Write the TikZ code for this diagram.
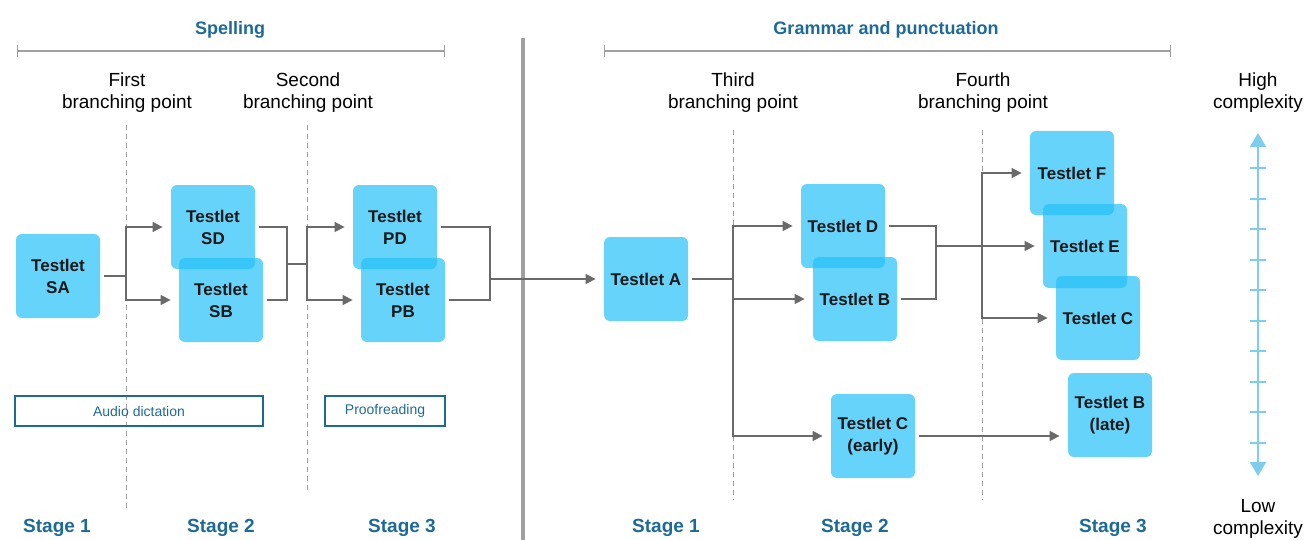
\documentclass[tikz,border=0pt]{standalone}
\usepackage{fontspec}
\setmainfont{Liberation Sans}
\usepackage{tikz}
\usetikzlibrary{shapes, arrows.meta, positioning}
\definecolor{headblue}{HTML}{1E6A96}
\definecolor{boxblue}{HTML}{24C0F8}
\definecolor{linegray}{HTML}{6A6A6A}
\definecolor{rulegray}{HTML}{A0A0A0}
\definecolor{axisblue}{HTML}{7CCDEE}
\tikzstyle{testlet} = [fill=boxblue, fill opacity=0.7, text opacity=1, rounded corners=3pt, minimum width=42pt, minimum height=42pt, align=center, font=\fontsize{8.5}{11}\selectfont\bfseries, text=black!90]
\tikzstyle{flow} = [draw=linegray, line width=0.75pt]
\tikzstyle{gap} = [shorten <=2pt]
\tikzstyle{branch} = [flow, -{Triangle[length=5pt,width=5pt]}, shorten >=4pt]
\tikzstyle{dashline} = [draw=rulegray, line width=0.5pt, dash pattern=on 2.5pt off 2pt]
\tikzstyle{stage} = [font=\fontsize{9.5}{11}\selectfont\bfseries, text=headblue]
\tikzstyle{heading} = [font=\fontsize{9}{11}\selectfont\bfseries, text=headblue]
\tikzstyle{bplabel} = [align=center, font=\fontsize{9.5}{11}\selectfont]
\tikzstyle{task} = [draw=headblue, line width=0.6pt, minimum height=15pt, font=\fontsize{7}{8}\selectfont, text=headblue]

\begin{document}
\begin{tikzpicture}[x=0.5pt, y=-0.5pt, >=latex]
    \useasboundingbox (0,0) rectangle (1312,540);
    % headings and bars
    \node [heading] (spell) at (230,30) {Spelling};
    \node [heading] (gram) at (886,30) {Grammar and punctuation};
    \draw [rulegray, line width=0.6pt, {Bar[width=6pt]}-{Bar[width=6pt]}] (17,51) -- (445,51);
    \draw [rulegray, line width=0.6pt, {Bar[width=6pt]}-{Bar[width=6pt]}] (604,51) -- (1171,51);
    \draw [rulegray, line width=1.6pt] (523,38) -- (523,540);
    % branching points
    \node [bplabel] (bpa) at (127,93) {First\\branching point};
    \node [bplabel] (bpb) at (308,93) {Second\\branching point};
    \node [bplabel] (bpc) at (733,93) {Third\\branching point};
    \node [bplabel] (bpd) at (983,93) {Fourth\\branching point};
    \coordinate (bp1) at (126,0);
    \coordinate (bp2) at (307,0);
    \coordinate (bp3) at (733,0);
    \coordinate (bp4) at (982,0);
    \draw [dashline] (126,125) -- (126,508);
    \draw [dashline] (307,125) -- (307,490);
    \draw [dashline] (733,130) -- (733,500);
    \draw [dashline] (982,130) -- (982,500);
    % spelling testlets
    \node [testlet] (sa) at (58,276) {Testlet\\SA};
    \node [testlet] (sd) at (213,227) {Testlet\\SD};
    \node [testlet] (sb) at (221,300) {Testlet\\SB};
    \node [testlet] (pd) at (395,227) {Testlet\\PD};
    \node [testlet] (pb) at (403,300) {Testlet\\PB};
    \node [task, minimum width=124pt] (audio) at (139,411) {Audio dictation};
    \node [task, minimum width=60pt] (proof) at (385,411) {Proofreading};
    % grammar testlets
    \node [testlet] (ta) at (646,279) {Testlet A};
    \node [testlet] (td) at (843,226) {Testlet D};
    \node [testlet] (tb) at (855,299) {Testlet B};
    \node [testlet] (tce) at (873,436) {Testlet C\\(early)};
    \node [testlet] (tf) at (1072,173) {Testlet F};
    \node [testlet] (te) at (1085,246) {Testlet E};
    \node [testlet] (tc) at (1098,318) {Testlet C};
    \node [testlet] (tbl) at (1110,415) {Testlet B\\(late)};
    % spelling connectors
    \draw [flow, gap] (sa.east) -- (sa.east -| bp1);
    \draw [branch] (sa.east -| bp1) |- (sd.west);
    \draw [branch] (sa.east -| bp1) |- (sb.west);
    \coordinate (m1) at (287,264);
    \draw [flow, gap, shorten >=2pt] (sd.east) -| (m1) |- (sb.east);
    \draw [flow] (m1) -- (m1 -| bp2);
    \draw [branch] (m1 -| bp2) |- (pd.west);
    \draw [branch] (m1 -| bp2) |- (pb.west);
    \coordinate (m2) at (490,279);
    \draw [flow, gap, shorten >=2pt] (pd.east) -| (m2) |- (pb.east);
    \draw [branch] (m2) -- (ta.west);
    % grammar connectors
    \draw [flow, gap] (ta.east) -- (ta.east -| bp3);
    \draw [branch] (ta.east -| bp3) |- (td.west);
    \draw [branch] (ta.east -| bp3) |- (tb.west);
    \draw [branch] (ta.east -| bp3) |- (tce.west);
    \coordinate (m3) at (936,246);
    \draw [flow, gap, shorten >=2pt] (td.east) -| (m3) |- (tb.east);
    \draw [branch] (m3) -- (te.west);
    \draw [branch] (m3 -| bp4) |- (tf.west);
    \draw [branch] (m3 -| bp4) |- (tc.west);
    \draw [branch, gap] (tce.east) -- (tce.east -| tbl.west);
    % stages
    \node [stage] (s1) at (57,528) {Stage 1};
    \node [stage] (s2) at (221,528) {Stage 2};
    \node [stage] (s3) at (402,528) {Stage 3};
    \node [stage] (g1) at (666,528) {Stage 1};
    \node [stage] (g2) at (855,528) {Stage 2};
    \node [stage] (g3) at (1113,528) {Stage 3};
    % complexity scale
    \node [bplabel] (high) at (1258,93) {High\\complexity};
    \node [bplabel] (low) at (1258,519) {Low\\complexity};
    \draw [axisblue, line width=1pt, {Triangle[length=7pt,width=8pt]}-{Triangle[length=7pt,width=8pt]}] (1258,133) -- (1258,476);
    \foreach \y in {168,199,229,260,290,321,351,382,412,443}
        \draw [axisblue, line width=1pt] (1250,\y) -- (1266,\y);
\end{tikzpicture}
\end{document}
